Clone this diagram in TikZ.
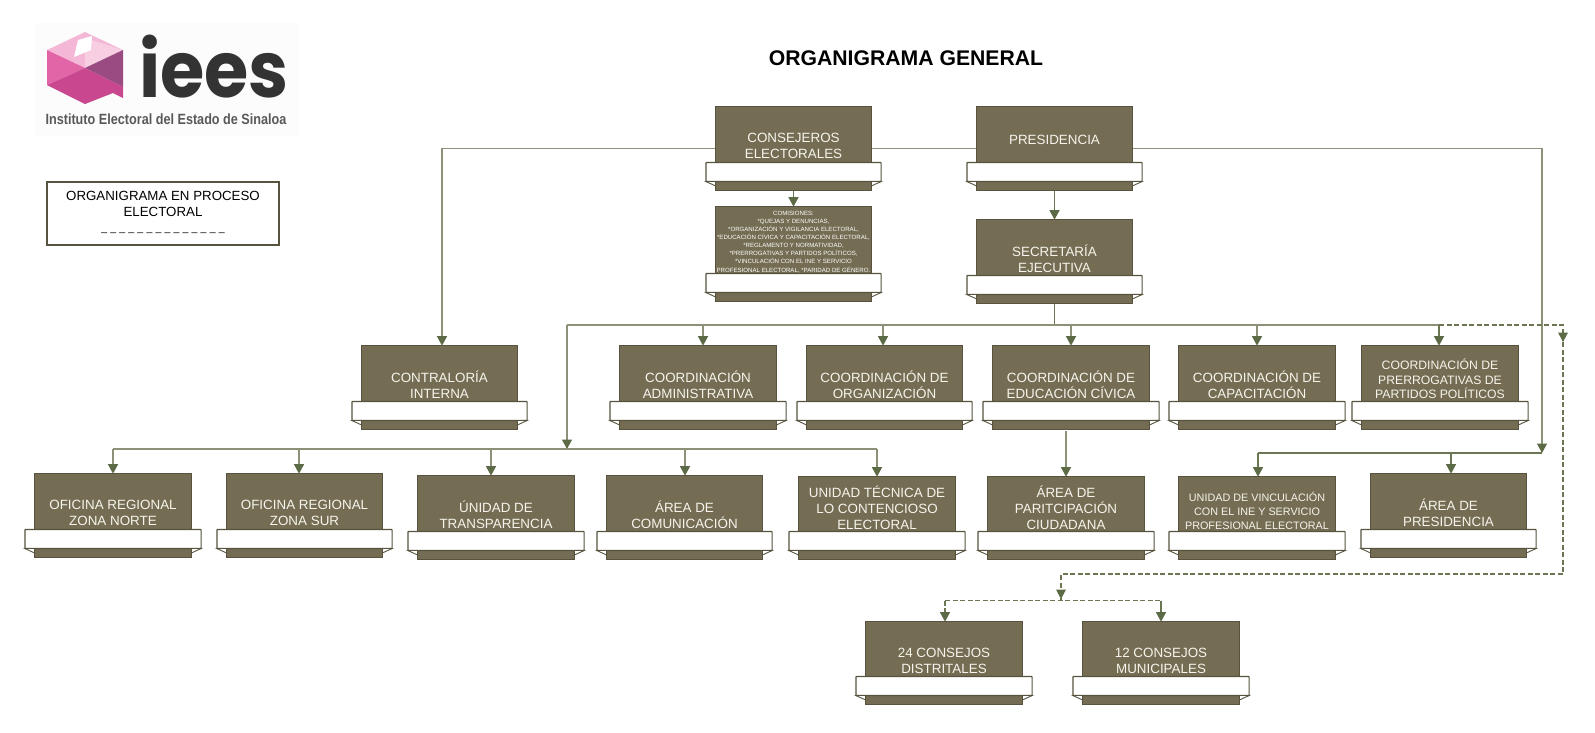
\documentclass[tikz,border=0pt]{standalone}
\usepackage{fontspec}
\usepackage{graphicx}
\setmainfont{Liberation Sans}
\newfontfamily\logofont{Poppins}
\usetikzlibrary{arrows.meta,backgrounds}
\definecolor{boxfill}{HTML}{746D53}
\definecolor{boxedge}{HTML}{57533E}
\definecolor{connA}{HTML}{8C9278}
\definecolor{connB}{HTML}{6B7653}
\definecolor{tipc}{HTML}{5C6A45}
\definecolor{textc}{HTML}{F6F4EC}
\definecolor{lgA}{HTML}{F4B8D6}
\definecolor{lgB}{HTML}{F8CFE2}
\definecolor{lgC}{HTML}{E265A8}
\definecolor{lgD}{HTML}{9A4C82}
\definecolor{lgE}{HTML}{C9478F}
\newcommand{\upstrut}{\rule{0pt}{13pt}}
\newcommand{\downstrut}{\rule[-3pt]{0pt}{3pt}}
\tikzset{
  x=1pt,y=-1pt,
  orgbox/.style={draw=boxedge,line width=1.3pt,fill=boxfill,inner sep=0pt,outer sep=0pt},
  ribbon/.style={draw=boxedge,line width=1.2pt,fill=white,inner sep=0pt,outer sep=0pt,rounded corners=.6pt},
  fold/.style={draw=boxedge,line width=.9pt,fill=white},
  orgtext/.style={text=textc,align=center,inner sep=0pt,font=\fontsize{13.4}{16}\selectfont,
    execute at begin node=\upstrut,execute at end node=\downstrut},
  midtext/.style={text=textc,align=center,inner sep=0pt,font=\fontsize{12.2}{14.6}\selectfont,
    execute at begin node=\upstrut,execute at end node=\downstrut},
  smalltext/.style={text=textc,align=center,inner sep=0pt,font=\fontsize{10.8}{14}\selectfont,
    execute at begin node=\upstrut,execute at end node=\downstrut},
  tinytext/.style={text=white,align=center,inner sep=0pt,font=\fontsize{6.1}{8.1}\selectfont},
  conn/.style={draw=connA,line width=1.4pt},
  connd/.style={draw=connB,line width=1.3pt},
  dashc/.style={draw=connB,line width=1.3pt,dash pattern=on 5pt off 2.5pt},
  tipped/.style={-{Triangle[length=9.5pt,width=10pt,color=tipc]}},
}
% \orgb{name}{left}{right}{top}{ribbon top}{text style}{text y}{text}
\newcommand{\orgb}[8]{%
  \pgfmathsetmacro{\xc}{(#2+#3)/2}%
  \pgfmathsetmacro{\yc}{(#4+#5+29)/2}%
  \pgfmathsetmacro{\bw}{#3-#2-1.3}%
  \pgfmathsetmacro{\bh}{#5+29-#4-1.3}%
  \pgfmathsetmacro{\rw}{\bw+19.5}%
  \pgfmathsetmacro{\fy}{#5+24}%
  \pgfmathsetmacro{\ry}{#5+10}%
  \pgfmathsetmacro{\ty}{#7+1}%
  \node[orgbox,minimum width=\bw pt,minimum height=\bh pt] (#1) at (\xc,\yc) {};
  \node[ribbon,minimum width=\rw pt,minimum height=19pt] (#1r) at (\xc,\ry) {};
  \path[fold] (#1r.south west) -- (#1.west |- 0,\fy) -- (#1.west |- #1r.south) -- cycle;
  \path[fold] (#1r.south east) -- (#1.east |- 0,\fy) -- (#1.east |- #1r.south) -- cycle;
  \node[#6] (#1t) at (\xc,\ty) {#8};
}
\begin{document}
\begin{tikzpicture}
\useasboundingbox (0,0) rectangle (1595,732);

% logo
\fill[black!1] (35,23) rectangle (299,136);
\fill[lgA] (47,50) -- (85,32) -- (123,50) -- (85,68) -- cycle;
\fill[lgB] (85,68) -- (85,38) -- (123,50) -- cycle;
\fill[white] (78,40) -- (92,36) -- (91,50) -- (74,57) -- cycle;
\fill[lgC] (47,50) -- (85,68) -- (47,85) -- cycle;
\fill[lgD] (85,68) -- (123,50) -- (123,87) -- cycle;
\fill[lgE] (47,85) -- (85,68) -- (123,87) -- (123,98) -- (113,93) -- (85,104) -- cycle;
\node[inner sep=0pt,text=black!80,xscale=.92,text depth=0pt,text height=50pt,font=\logofont\bfseries\fontsize{78}{78}\selectfont] (iees) at (214,72) {iees};
\node[inner sep=0pt,text=black!65,xscale=.854,font=\bfseries\fontsize{14.8}{15}\selectfont] (inst) at (166,119) {Instituto Electoral del Estado de Sinaloa};

% title
\node[inner sep=0pt,font=\bfseries\fontsize{21.2}{23}\selectfont] (title) at (906,58) {ORGANIGRAMA GENERAL};

% legend
\node[draw=boxedge,line width=1.3pt,minimum width=232pt,minimum height=63pt,inner sep=0pt] (legend) at (163,213.5) {};
\node[align=center,inner sep=0pt,font=\fontsize{13.3}{16}\selectfont] (legendt) at (163,204) {ORGANIGRAMA EN PROCESO\\ELECTORAL};
\node[inner sep=0pt,font=\fontsize{10.5}{12}\selectfont] (legendd) at (163,233) {\_\hspace{3.2pt}\_\hspace{3.2pt}\_\hspace{3.2pt}\_\hspace{3.2pt}\_\hspace{3.2pt}\_\hspace{3.2pt}\_\hspace{3.2pt}\_\hspace{3.2pt}\_\hspace{3.2pt}\_\hspace{3.2pt}\_\hspace{3.2pt}\_\hspace{3.2pt}\_\hspace{3.2pt}\_};

% boxes
\orgb{cons}{715}{872}{106}{162}{orgtext}{146}{CONSEJEROS\\ELECTORALES}
\orgb{pres}{976}{1133}{106}{162}{orgtext}{138}{PRESIDENCIA}
\orgb{comi}{715}{872}{206}{273}{tinytext}{241}{COMISIONES:\\*QUEJAS Y DENUNCIAS,\\*ORGANIZACIÓN Y VIGILANCIA ELECTORAL,\\*EDUCACIÓN CÍVICA Y CAPACITACIÓN ELECTORAL,\\*REGLAMENTO Y NORMATIVIDAD,\\*PRERROGATIVAS Y PARTIDOS POLÍTICOS,\\*VINCULACIÓN CON EL INE Y SERVICIO\\PROFESIONAL ELECTORAL, *PARIDAD DE GÉNERO.}
\orgb{secr}{976}{1133}{219}{275}{orgtext}{259.5}{SECRETARÍA\\EJECUTIVA}
\orgb{contra}{361}{518}{345}{401}{orgtext}{385}{CONTRALORÍA\\INTERNA}
\orgb{admin}{619}{777}{345}{401}{orgtext}{385}{COORDINACIÓN\\ADMINISTRATIVA}
\orgb{organ}{806}{963}{345}{401}{orgtext}{385}{COORDINACIÓN DE\\ORGANIZACIÓN}
\orgb{educ}{992}{1150}{345}{401}{orgtext}{385}{COORDINACIÓN DE\\EDUCACIÓN CÍVICA}
\orgb{capa}{1178}{1336}{345}{401}{orgtext}{385}{COORDINACIÓN DE\\CAPACITACIÓN}
\orgb{prerr}{1361}{1519}{345}{401}{midtext}{379.5}{COORDINACIÓN DE\\PRERROGATIVAS DE\\PARTIDOS POLÍTICOS}
\orgb{norte}{34}{192}{473}{529}{orgtext}{513}{OFICINA REGIONAL\\ZONA NORTE}
\orgb{sur}{226}{383}{473}{529}{orgtext}{513}{OFICINA REGIONAL\\ZONA SUR}
\orgb{trans}{417}{575}{475}{531}{orgtext}{515}{ÚNIDAD DE\\TRANSPARENCIA}
\orgb{comu}{606}{763}{475}{531}{orgtext}{515}{ÁREA DE\\COMUNICACIÓN}
\orgb{cont}{798}{956}{476}{531}{orgtext}{508}{UNIDAD TÉCNICA DE\\LO CONTENCIOSO\\ELECTORAL}
\orgb{part}{987}{1145}{476}{531}{orgtext}{508}{ÁREA DE\\PARITCIPACIÓN\\CIUDADANA}
\orgb{vinc}{1178}{1336}{476}{531}{smalltext}{511}{UNIDAD DE VINCULACIÓN\\CON EL INE Y SERVICIO\\PROFESIONAL ELECTORAL}
\orgb{apres}{1370}{1527}{473}{529}{orgtext}{513}{ÁREA DE\\PRESIDENCIA}
\orgb{dist}{865}{1023}{621}{676}{orgtext}{661}{24 CONSEJOS\\DISTRITALES}
\orgb{muni}{1082}{1240}{621}{676}{orgtext}{661}{12 CONSEJOS\\MUNICIPALES}

% junction coordinates
\coordinate (busS) at (1054.5,325);
\coordinate (busL) at (567,325);
\coordinate (dA) at (703,325);
\coordinate (dO) at (883,325);
\coordinate (dE) at (1071,325);
\coordinate (dC) at (1257,325);
\coordinate (dP) at (1439,325);
\coordinate (busR) at (1563,325);
\coordinate (dashT) at (1563,342);
\coordinate (dashC) at (1563,574);
\coordinate (dashE) at (1061,574);
\coordinate (dashM) at (1061,600.5);
\coordinate (row4) at (567,449);
\coordinate (r1) at (113,449);
\coordinate (r2) at (299,449);
\coordinate (r3) at (491,449);
\coordinate (r4) at (685,449);
\coordinate (r5) at (877,449);
\coordinate (rt) at (1542,453);
\coordinate (v1) at (1258,453);
\coordinate (v2) at (1451,453);
\coordinate (k1) at (945,600.5);
\coordinate (k2) at (1161,600.5);
\coordinate (cfoot) at (442,148.5);
\coordinate (pfoot) at (1066,431);

\begin{scope}[on background layer]
  \fill[white] (0,0) rectangle (1595,732);
  \draw[conn,tipped] (cons.west) -- (cfoot) -- (cfoot |- contra.north);
  \draw[conn] (cons.east) -- (pres.west);
  \draw[conn,tipped] (pres.east) -| (rt);
  \draw[connd,tipped] (cons.south) -- (comi.north);
  \draw[connd,tipped] (pres.south) -- (secr.north);
  \draw[connd] (secr.south) -- (busS);
  \draw[conn] (busL) -- (dP);
  \draw[conn,tipped] (busL) -- (row4);
  \draw[conn,tipped] (dA) -- (dA |- admin.north);
  \draw[conn,tipped] (dO) -- (dO |- organ.north);
  \draw[conn,tipped] (dE) -- (dE |- educ.north);
  \draw[conn,tipped] (dC) -- (dC |- capa.north);
  \draw[connd,tipped] (dP) -- (dP |- prerr.north);
  \draw[dashc] (dP) -- (busR) -- (dashT);
  \draw[dashc] (dashT) -- (dashC) -- (dashE) -- (dashM);
  \fill[tipc] (1563,342) -- ++(-5,-9.5) -- ++(10,0) -- cycle;
  \fill[tipc] (1061,599) -- ++(-5,-9.5) -- ++(10,0) -- cycle;
  \draw[conn] (r1) -- (r5);
  \draw[conn,tipped] (r1) -- (r1 |- norte.north);
  \draw[conn,tipped] (r2) -- (r2 |- sur.north);
  \draw[conn,tipped] (r3) -- (r3 |- trans.north);
  \draw[conn,tipped] (r4) -- (r4 |- comu.north);
  \draw[conn,tipped] (r5) -- (r5 |- cont.north);
  \draw[conn,tipped] (pfoot) -- (pfoot |- part.north);
  \draw[connd] (v1) -- (rt);
  \draw[connd,tipped] (v1) -- (v1 |- vinc.north);
  \draw[connd,tipped] (v2) -- (v2 |- apres.north);
  \draw[dashc] (k1) -- (k2);
  \draw[dashc,tipped] (k1) -- (k1 |- dist.north);
  \draw[connd,tipped] (k2) -- (k2 |- muni.north);
\end{scope}
\end{tikzpicture}
\end{document}
